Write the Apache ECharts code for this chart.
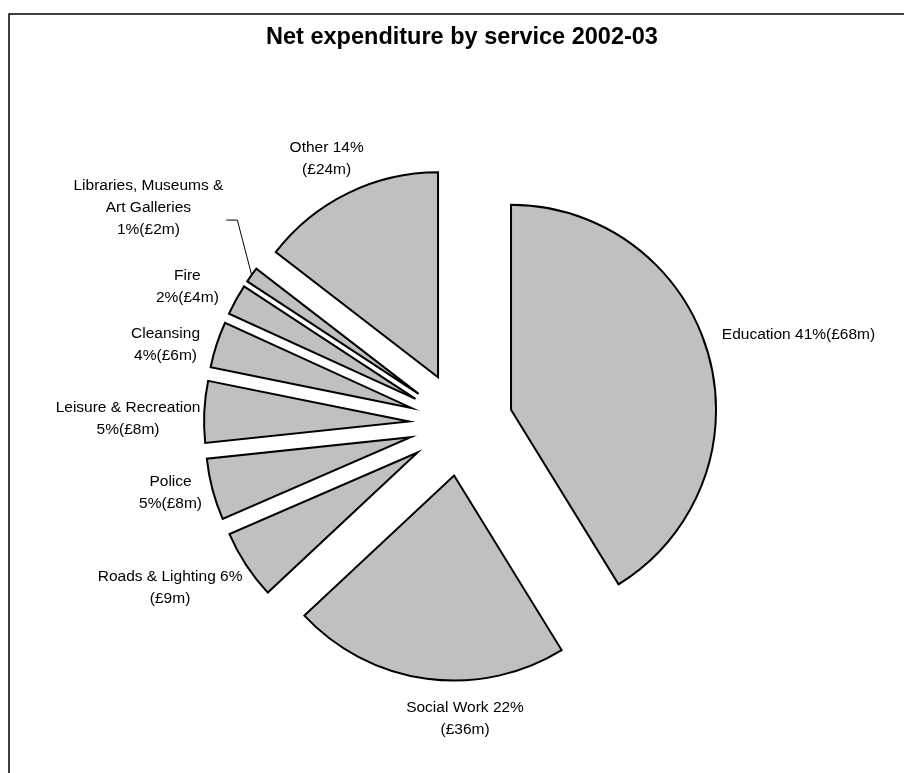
<!DOCTYPE html>
<html><head><meta charset="utf-8">
<script src="https://cdn.jsdelivr.net/npm/echarts@6/dist/echarts.min.js"></script>
<style>html,body{margin:0;padding:0;background:#fff}#c{width:904px;height:773px}</style>
</head><body><div id="c"></div>
<script>
// ---- data ----
const titleText = 'Net expenditure by service 2002-03';
const categories = ['Education', 'Social Work', 'Roads & Lighting', 'Police', 'Leisure & Recreation', 'Cleansing', 'Fire', 'Libraries, Museums & Art Galleries', 'Other'];
const values = [68, 36, 9, 8, 8, 6, 4, 2, 24]; // £m
const labelTexts = ['Education 41%(£68m)', 'Social Work 22%\n(£36m)', 'Roads & Lighting 6%\n(£9m)', 'Police\n5%(£8m)', 'Leisure & Recreation\n5%(£8m)', 'Cleansing\n4%(£6m)', 'Fire\n2%(£4m)', 'Libraries, Museums &\nArt Galleries\n1%(£2m)', 'Other 14%\n(£24m)'];

// ---- layout (not data) ----
const CX = 461, CY = 424, RADIUS = 205, OFFSET = 52, GAP = 15, LEADER_MIN = 25;
// small manual label nudges (as in the original, where labels were dragged)
const labelNudge = [[2, -12], [48, 3], [-3, 2], [3, -6], [11, 9], [-4, 12], [-8, 5], [-30, -39], [2, -1]];
const total = values.reduce((a, b) => a + b, 0);

function labelLayout(p) {
  const i = p.dataIndex;
  let acc = 0;
  for (let k = 0; k < i; k++) acc += values[k];
  const mid = (acc + values[i] / 2) / total * 2 * Math.PI;
  const dx = Math.sin(mid), dy = -Math.cos(mid);
  const w = p.labelRect.width, h = p.labelRect.height;
  const r = RADIUS + OFFSET + GAP;
  const cx = CX + dx * r + dx * w / 2 + labelNudge[i][0];
  const cy = CY + dy * r + dy * h / 2 + labelNudge[i][1];
  const box = { x: cx - w / 2, y: cy - h / 2, w: w, h: h };
  // anchor: middle of the exploded slice's outer arc
  const ax = CX + dx * (RADIUS + OFFSET), ay = CY + dy * (RADIUS + OFFSET);
  const ddx = Math.max(box.x - ax, 0, ax - (box.x + w));
  const ddy = Math.max(box.y - ay, 0, ay - (box.y + h));
  let pts;
  if (Math.hypot(ddx, ddy) > LEADER_MIN) {
    const side = dx < 0 ? box.x + w + 3 : box.x - 3;
    const knee = dx < 0 ? side + 11 : side - 11;
    pts = [[ax, ay], [knee, cy + 12], [side, cy + 12]];
  } else {
    pts = [[ax, ay], [ax, ay], [ax, ay]];
  }
  return { x: cx, y: cy, align: 'center', verticalAlign: 'middle', labelLinePoints: pts };
}

const chart = echarts.init(document.getElementById('c'), null, { renderer: 'canvas' });
const sliceStyle = { color: '#c0c0c0', borderColor: '#000', borderWidth: 2, borderJoin: 'miter' };
const seriesData = categories.map((n, i) => ({ name: n, value: values[i] }));
chart.setOption({
  animation: false,
  backgroundColor: '#fff',
  graphic: [{
    type: 'rect', silent: true,
    shape: { x: 9, y: 14, width: 1000, height: 1000 },
    style: { fill: 'none', stroke: '#000', lineWidth: 1.5 }
  }],
  title: {
    text: titleText, left: 457, top: 21, textAlign: 'center',
    textStyle: { fontSize: 23.5, fontWeight: 'bold', color: '#000', fontFamily: 'Liberation Sans' }
  },
  series: [{
    // exploded slices
    type: 'pie',
    center: [CX, CY], radius: RADIUS, startAngle: 90, clockwise: true,
    selectedMode: 'multiple', selectedOffset: OFFSET,
    data: seriesData.map(d => Object.assign({ selected: true }, d)),
    itemStyle: sliceStyle,
    select: { itemStyle: sliceStyle },
    emphasis: { disabled: true },
    label: { show: false },
    labelLine: { show: false },
    silent: true
  }, {
    // carrier for the data labels
    type: 'pie',
    center: [CX, CY], radius: RADIUS, startAngle: 90, clockwise: true,
    avoidLabelOverlap: false,
    data: seriesData,
    itemStyle: { color: 'rgba(0,0,0,0)', borderWidth: 0 },
    emphasis: { disabled: true },
    silent: true,
    label: {
      show: true, position: 'outside',
      formatter: p => labelTexts[p.dataIndex],
      color: '#000', fontSize: 15.5, lineHeight: 22, fontFamily: 'Liberation Sans', align: 'center'
    },
    labelLine: { show: true, length: 0, length2: 0, lineStyle: { color: '#000', width: 1 } },
    labelLayout: labelLayout
  }]
});
</script></body></html>
